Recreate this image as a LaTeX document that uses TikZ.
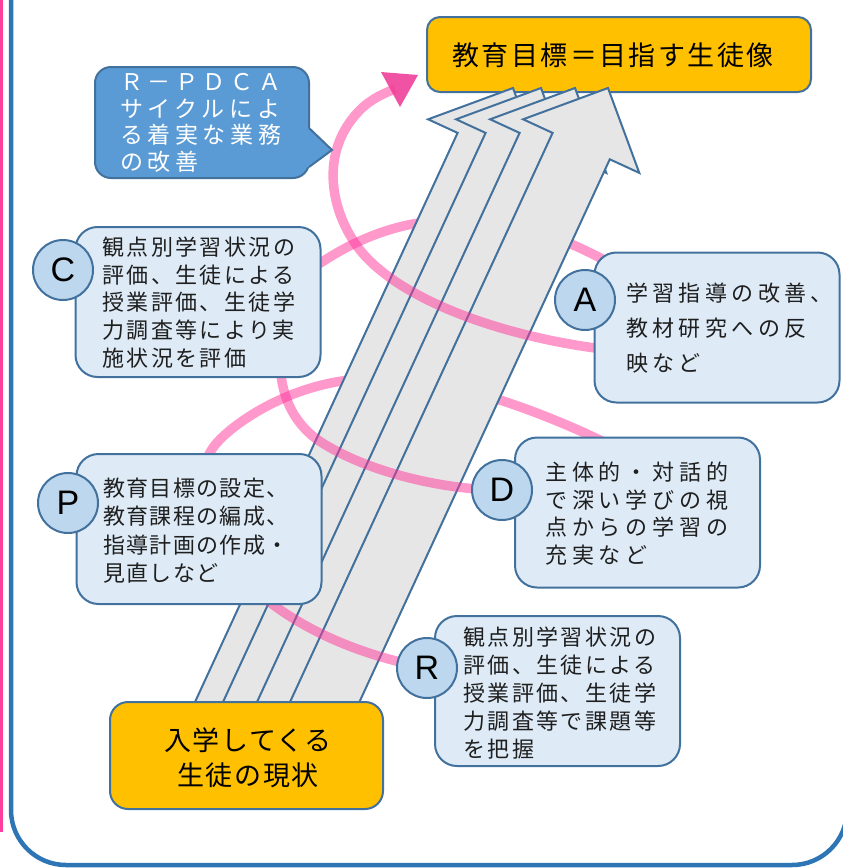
\documentclass[tikz,border=0pt]{standalone}
\usepackage{fontspec}
\newfontfamily\jp{Noto Sans CJK JP}
\newfontfamily\latinsans{Liberation Sans}
\definecolor{framebl}{HTML}{2E75B6}
\definecolor{edgebl}{HTML}{41719C}
\definecolor{lightbl}{HTML}{DEEBF7}
\definecolor{circbl}{HTML}{BDD7EE}
\definecolor{gold}{HTML}{FFC000}
\definecolor{callbl}{HTML}{5B9BD5}
\definecolor{arrgray}{HTML}{E7E6E6}
\definecolor{pinkline}{HTML}{FF3399}
\definecolor{pinkhead}{HTML}{F0409A}
\definecolor{pinkedge}{HTML}{FF3FA0}
\newcommand\jpfont[3]{\fontsize{#1}{#2}\jp\addfontfeature{LetterSpace=#3}}
\tikzset{
  lbox/.style={draw=edgebl, line width=2pt, fill=lightbl, rounded corners=22pt,
    minimum width=245pt, minimum height=150pt, inner sep=0pt},
  lcirc/.style={circle, draw=edgebl, line width=2pt, fill=circbl, minimum size=60pt,
    inner sep=0pt, font=\fontsize{34}{34}\latinsans},
  gbox/.style={draw=edgebl, line width=2pt, fill=gold, inner sep=0pt},
  txt/.style={anchor=west, align=left, inner sep=0pt, text=black!88},
  helix/.style={draw=pinkline, draw opacity=0.5, line width=9.5pt},
  bigarrow/.style={draw=edgebl, line width=2pt, fill=arrgray, line join=miter},
}
\begin{document}
\begin{tikzpicture}[x=1pt,y=-1pt]
\useasboundingbox (0,0) rectangle (843,868);
% frame
\draw[draw=framebl, line width=4.5pt, rounded corners=55pt] (11,-100) rectangle (847,865);
\draw[draw=pinkedge, line width=3pt] (1.5,-10) -- (1.5,832);
% back parts of the spiral
\draw[helix] (255,590) .. controls (190,530) and (195,470) .. (215,445)
  .. controls (231,425) and (285,387) .. (350,380)
  .. controls (400,375) and (450,385) .. (500,400)
  .. controls (540,413) and (580,430) .. (610,445);
\draw[helix] (280,365) .. controls (275,310) and (290,280) .. (322,262)
  .. controls (345,247) and (380,228) .. (425,222)
  .. controls (490,214) and (545,232) .. (580,248)
  .. controls (595,255) and (608,262) .. (620,268);
% goal box
\node[gbox, rounded corners=13pt, minimum width=384pt, minimum height=75pt] (goal) at (619,54.5) {};
\node[inner sep=0pt, text=black, font=\jpfont{27}{27}{9}] (goaltext) at (613,55) {教育目標＝目指す生徒像};
% arrows
\foreach \s in {-95,-67,-33,0}{
  \draw[bigarrow, xshift=\s pt] (608,88) -- (639.3,172.9) -- (609.8,159.3) -- (323.4,780)
    -- (266.2,753.6) -- (552.6,132.9) -- (523.1,119.3) -- cycle;
}
% front parts of the spiral
\draw[helix] (427,668) .. controls (360,655) and (300,630) .. (255,590);
\draw[helix] (610,445) .. controls (640,465) and (560,490) .. (502,490)
  .. controls (440,490) and (360,470) .. (315,438)
  .. controls (295,422) and (282,400) .. (280,365);
\draw[helix] (620,268) .. controls (660,290) and (650,345) .. (595,348)
  .. controls (500,335) and (400,300) .. (360,250)
  .. controls (330,212) and (318,150) .. (362,108)
  .. controls (372,99) and (382,94) .. (395,89);
\fill[pinkhead, opacity=0.9] (381,72) -- (418,75) -- (400,107) -- cycle;
% start box
\node[gbox, rounded corners=18pt, minimum width=273pt, minimum height=107pt] (start) at (246.5,755.5) {};
\node[inner sep=0pt, align=center, text=black, font=\jpfont{27}{35}{6}] (starttext) at (248,757.5) {入学してくる\\生徒の現状};
% callout
\node[draw=edgebl, line width=2pt, fill=callbl, rounded corners=16pt, minimum width=214pt,
  minimum height=111pt, inner sep=0pt] (call) at (202,122.5) {};
\fill[callbl] (304,128) -- (309,128) -- (332,150) -- (309,167) -- (304,167) -- cycle;
\draw[draw=edgebl, line width=2pt, line join=miter] (309,128) -- (332,150) -- (309,167);
\node[txt, text=white, font=\jpfont{23}{26.7}{20}] (calltext) at (120,123)
  {Ｒ－ＰＤＣＡ\\サイクルによ\\る着実な業務\\の改善};
% stage boxes
\node[lbox] (Cbox) at (198,302) {};
\node[lbox] (Abox) at (717,327.5) {};
\node[lbox] (Pbox) at (199,529) {};
\node[lbox] (Dbox) at (637.5,512.5) {};
\node[lbox] (Rbox) at (557.5,691) {};
\node[lcirc] (Cc) at (63,270) {C};
\node[lcirc] (Ac) at (585,300) {A};
\node[lcirc] (Pc) at (68,503) {P};
\node[lcirc] (Dc) at (502,490) {D};
\node[lcirc] (Rc) at (427,668) {R};
\node[txt, font=\jpfont{22}{27.8}{11}] (Ct) at (102,302.5)
  {観点別学習状況の\\評価、生徒による\\授業評価、生徒学\\力調査等により実\\施状況を評価};
\node[txt, font=\jpfont{22}{35}{20}] (At) at (626,328)
  {学習指導の改善、\\教材研究への反\\映など};
\node[txt, font=\jpfont{22}{28.3}{6}] (Pt) at (103,530.5)
  {教育目標の設定、\\教育課程の編成、\\指導計画の作成・\\見直しなど};
\node[txt, font=\jpfont{22}{27.7}{22}] (Dt) at (545,513.5)
  {主体的・対話的\\で深い学びの視\\点からの学習の\\充実など};
\node[txt, font=\jpfont{22}{28}{11}] (Rt) at (463,693)
  {観点別学習状況の\\評価、生徒による\\授業評価、生徒学\\力調査等で課題等\\を把握};
\end{tikzpicture}
\end{document}
